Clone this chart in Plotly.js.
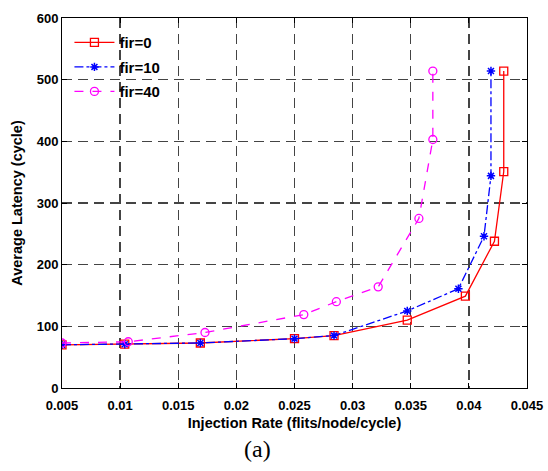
<!DOCTYPE html>
<html><head><meta charset="utf-8">
<script src="https://cdn.plot.ly/plotly-3.0.1.min.js"></script>
<style>body{margin:0;background:#fff}#c{width:548px;height:471px}</style>
</head><body><div id="c"></div>
<script>
const seriesNames = ["fir=0", "fir=10", "fir=40"];
const fir0X = [0.005, 0.0104, 0.0169, 0.025, 0.0284, 0.0347, 0.0397, 0.0422, 0.0430, 0.0430];
const fir0Y = [70, 71, 73, 80, 85, 110, 149, 238, 351, 514];
const fir10X = [0.005, 0.0104, 0.0169, 0.025, 0.0284, 0.0347, 0.0391, 0.0413, 0.0419, 0.0419];
const fir10Y = [70, 71, 73, 80, 85, 125, 161, 246, 344, 514];
const fir40X = [0.005, 0.0107, 0.0173, 0.0258, 0.0286, 0.0322, 0.0357, 0.0369, 0.0369];
const fir40Y = [73, 75, 90, 119, 140, 164, 275, 403, 514];
const xTicks = [0.005, 0.01, 0.015, 0.02, 0.025, 0.03, 0.035, 0.04, 0.045];
const xTickLabels = ["0.005", "0.01", "0.015", "0.02", "0.025", "0.03", "0.035", "0.04", "0.045"];
const yTicks = [0, 100, 200, 300, 400, 500, 600];

const fam = "Liberation Sans, Arial, sans-serif";
const tickFont = {family: fam, size: 13, color: "#000", weight: "bold"};
const titleFont = {family: fam, size: 14.5, color: "#000", weight: "bold"};
const traces = [
  {x: fir0X, y: fir0Y, name: seriesNames[0], legendgroup: "a", mode: "lines+markers",
   line: {color: "#ff0000", width: 1.3, dash: "solid"},
   marker: {symbol: "square-open", size: 8, color: "#ff0000", line: {width: 1.3}}},
  {x: fir10X, y: fir10Y, name: seriesNames[1], legendgroup: "b", mode: "lines+markers",
   line: {color: "#0000ff", width: 1.3, dash: "dashdot"},
   marker: {symbol: "asterisk-open", size: 7, color: "#0000ff", line: {width: 1.5, color: "#0000ff"}}},
  {x: fir40X, y: fir40Y, name: seriesNames[2], legendgroup: "c", mode: "lines+markers",
   line: {color: "#ff00ff", width: 1.3, dash: "dash"},
   marker: {symbol: "circle-open", size: 8, color: "#ff00ff", line: {width: 1.3}}}
];
const layout = {
  width: 548, height: 471,
  margin: {l: 62, r: 21, t: 18, b: 83},
  paper_bgcolor: "#fff", plot_bgcolor: "#fff",
  showlegend: true,
  legend: {x: 0.016, y: 0.978, xanchor: "left", yanchor: "top", bgcolor: "rgba(0,0,0,0)",
    font: {family: fam, size: 15, color: "#000", weight: "bold"},
    tracegroupgap: 2, itemwidth: 40},
  xaxis: {range: [0.005, 0.045], tickvals: xTicks, ticktext: xTickLabels,
    showgrid: true, gridcolor: "#444", griddash: "10px,6px", gridwidth: 1.3,
    showline: true, linecolor: "#000", linewidth: 1, mirror: "ticks",
    ticks: "inside", ticklen: 5, tickcolor: "#000", zeroline: false,
    tickfont: tickFont, ticklabelstandoff: 5,
    title: {text: "Injection Rate (flits/node/cycle)", font: titleFont, standoff: 6}},
  yaxis: {range: [0, 600], tickvals: yTicks,
    showgrid: true, gridcolor: "#444", griddash: "10px,6px", gridwidth: 1.3,
    showline: true, linecolor: "#000", linewidth: 1, mirror: "ticks",
    ticks: "inside", ticklen: 5, tickcolor: "#000", zeroline: false,
    tickfont: tickFont,
    title: {text: "Average Latency (cycle)", font: titleFont, standoff: 10}},
  annotations: [{text: "(a)", xref: "paper", yref: "paper", x: 0.42, y: -0.125, xanchor: "center", yanchor: "top",
    showarrow: false, font: {family: "Liberation Serif, Times New Roman, serif", size: 24, color: "#000"}}]
};
Plotly.newPlot("c", traces, layout, {staticPlot: true, displayModeBar: false});
</script></body></html>
